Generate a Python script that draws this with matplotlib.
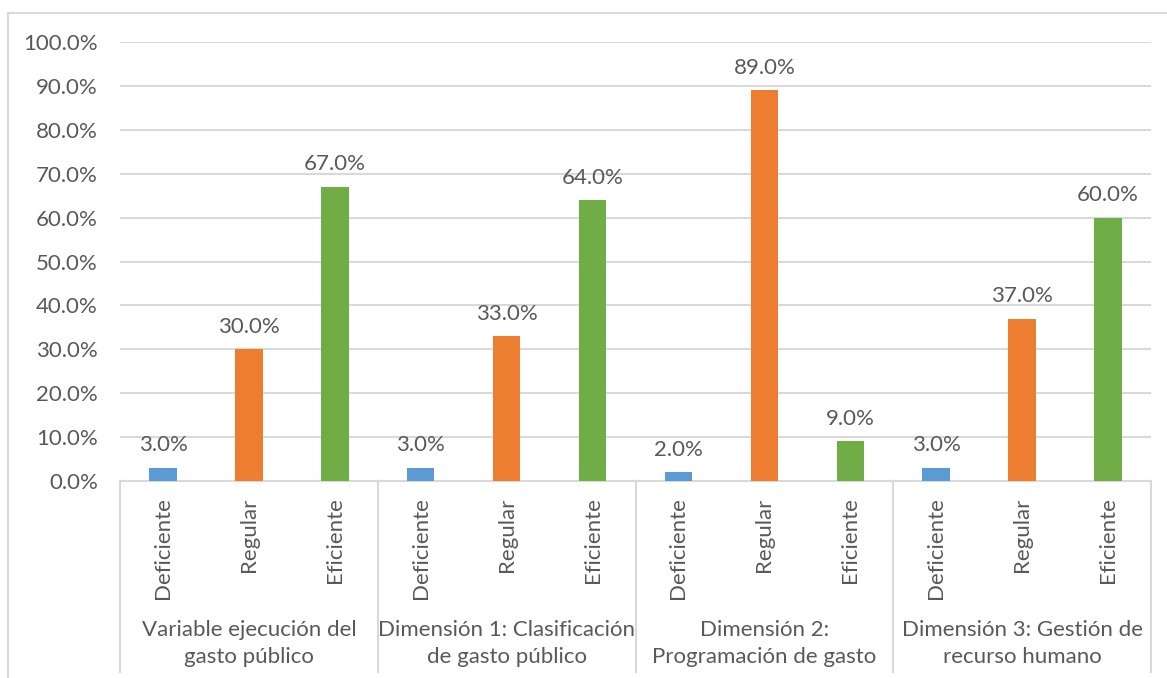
import matplotlib
matplotlib.use("Agg")
import matplotlib.pyplot as plt
import matplotlib.transforms as mtransforms
from matplotlib.lines import Line2D
from matplotlib.ticker import PercentFormatter

plt.rcParams["font.family"] = ["Lato", "DejaVu Sans"]

levels = ["Deficiente", "Regular", "Eficiente"]
groups = [
    "Variable ejecución del\ngasto público",
    "Dimensión 1: Clasificación\nde gasto público",
    "Dimensión 2:\nProgramación de gasto",
    "Dimensión 3: Gestión de\nrecurso humano",
]
values = [
    [3.0, 30.0, 67.0],
    [3.0, 33.0, 64.0],
    [2.0, 89.0, 9.0],
    [3.0, 37.0, 60.0],
]
colors = ["#5B9BD5", "#ED7D31", "#70AD47"]
yticks = [0, 10, 20, 30, 40, 50, 60, 70, 80, 90, 100]

TXT = "#595959"
GRID = "#D9D9D9"
FS = 16

fig = plt.figure(figsize=(11.67, 6.78), dpi=100)
ax = fig.add_axes([120 / 1167, 1 - 481 / 678, (1151 - 120) / 1167, (481 - 42) / 678])

n = len(levels)
for gi, vals in enumerate(values):
    for li, v in enumerate(vals):
        x = gi * n + li
        ax.bar(x, v, width=0.32, color=colors[li], zorder=3)
        ax.annotate(f"{v:.1f}%", (x, v), xytext=(0, 9), textcoords="offset points",
                    ha="center", va="bottom", fontsize=FS, color=TXT)

ax.set_xlim(-0.5, len(groups) * n - 0.5)
ax.set_ylim(0, 100)
ax.set_yticks(yticks)
ax.yaxis.set_major_formatter(PercentFormatter(decimals=1))
ax.tick_params(axis="y", length=0, pad=16, labelsize=FS, labelcolor=TXT)
ax.set_xticks([])
ax.grid(axis="y", color=GRID, linewidth=1.5, zorder=0)
for s in ["top", "right", "left"]:
    ax.spines[s].set_visible(False)
ax.spines["bottom"].set_color(GRID)
ax.spines["bottom"].set_linewidth(1.5)

# multi-level category axis
trans = mtransforms.blended_transform_factory(ax.transData, ax.transAxes)
sep_bottom = -(672 - 481) / (481 - 42)
for gi in range(len(groups) + 1):
    xb = gi * n - 0.5
    ax.add_line(Line2D([xb, xb], [0, sep_bottom], transform=trans,
                       color=GRID, linewidth=1.5, clip_on=False))
for gi, g in enumerate(groups):
    for li, lab in enumerate(levels):
        ax.text(gi * n + li, -0.037, lab, transform=trans, rotation=90,
                ha="center", va="top", fontsize=FS, color=TXT)
    ax.text(gi * n + 1, -0.371, g, transform=trans, ha="center", va="center",
            fontsize=FS, color=TXT, linespacing=1.45)

# chart area border
fig.add_artist(Line2D([8 / 1167, 8 / 1167], [0, 1 - 13 / 678], color=GRID, linewidth=1.5))
fig.add_artist(Line2D([8 / 1167, 1], [1 - 13 / 678, 1 - 13 / 678], color=GRID, linewidth=1.5))

fig.savefig("out.png")
